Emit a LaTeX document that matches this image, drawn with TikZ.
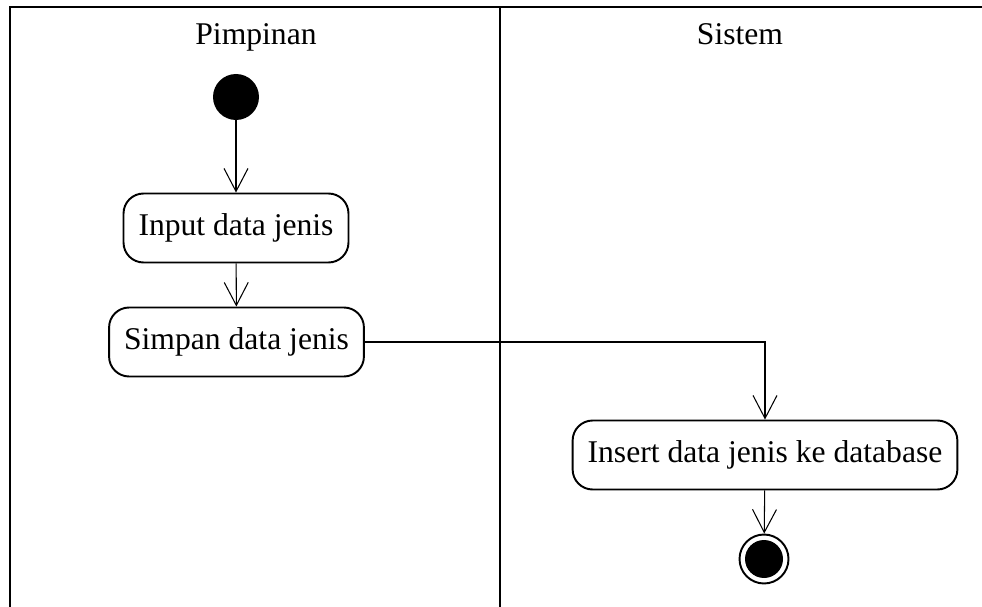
\documentclass[tikz,border=0pt]{standalone}
\usepackage{fontspec}
\setmainfont{Liberation Serif}
\usetikzlibrary{arrows.meta,positioning}

\begin{document}
\begin{tikzpicture}[x=0.02cm,y=-0.02cm]
    \tikzset{lane/.style={font=\fontsize{18}{21}\selectfont},act/.style={draw,line
        width=1.1pt,rounded corners=0.4cm,minimum height=1.38cm,inner xsep=0.3cm,font=\fontsize{18}{21}\selectfont},flow/.style={line
        width=0.6pt,-{Straight Barb[length=0.46cm,width=0.48cm,line width=0.6pt]}}}
    \useasboundingbox (0,0) rectangle (982,607);

    % swimlanes
    \draw[line width=1.6pt] (10,607) -- (10,7) -- (982,7);
    \draw[line width=1.6pt] (500,7) -- (500,607);
    \node[lane,anchor=base] (pim) at (256,45) {Pimpinan};
    \node[lane,anchor=base] (sis) at (740,45) {Sistem};

    \node[circle,fill,minimum size=0.92cm,inner sep=0pt] (start) at (236,97) {};
    \node[act] (input) at (236,228) {Input data jenis};
    \node[act] (simpan) at (236.5,342) {Simpan data jenis};
    \node[act] (insert) at (765,455) {Insert data jenis ke database};
    \node[circle,draw,line width=1.1pt,minimum size=0.98cm,inner sep=0pt] (end) at (764,559) {};
    \node[circle,fill,minimum size=0.76cm,inner sep=0pt] (endin) at (end) {};

    \draw[flow] (start) -- (input);
    \draw[flow] (input) -- (simpan);
    \draw[flow] (simpan) -| (insert);
    \draw[flow] (insert) -- (end);

  \end{tikzpicture}
\end{document}
